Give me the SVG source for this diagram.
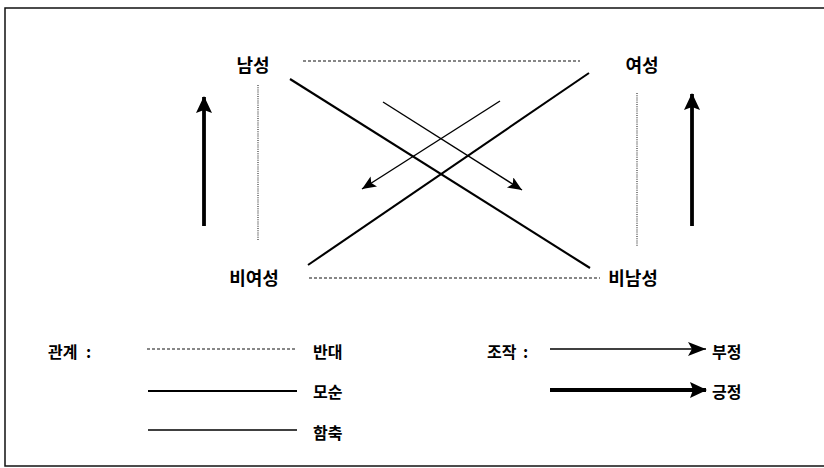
<svg xmlns="http://www.w3.org/2000/svg" width="824" height="468" viewBox="0 0 824 468">
<style>
text{font-family:"Noto Sans CJK KR","Noto Sans",sans-serif;font-weight:bold;fill:#000}
.node{font-size:18px;text-anchor:middle}
.leg{font-size:16px}
.dash{stroke:#111;stroke-width:1.2;stroke-dasharray:3 2;fill:none}
.dot{stroke:#222;stroke-width:1.1;stroke-dasharray:1 1.2;fill:none}
.solid{stroke:#000;stroke-width:2.1;fill:none}
.thin{stroke:#000;stroke-width:1.4;fill:none}
.thick{stroke:#000;stroke-width:3.8;fill:none}
</style>
<defs>
<marker id="ah" markerUnits="userSpaceOnUse" markerWidth="16" markerHeight="14" refX="14" refY="6" orient="auto">
<path d="M0,0 L14,6 L0,12 L3,6 Z" fill="#000"/>
</marker>
<marker id="ahL" markerUnits="userSpaceOnUse" markerWidth="20" markerHeight="16" refX="18" refY="7" orient="auto">
<path d="M0,0 L18,7 L0,14 L4,7 Z" fill="#000"/>
</marker>
<marker id="ahT" markerUnits="userSpaceOnUse" markerWidth="20" markerHeight="18" refX="16" refY="8" orient="auto">
<path d="M0,0 L17,8 L0,16 L3,8 Z" fill="#000"/>
</marker>
</defs>
<rect x="5" y="8" width="830" height="458" fill="none" stroke="#111" stroke-width="1.5"/>
<g id="connectors">
<line class="dash" x1="303" y1="61" x2="580" y2="61"/>
<line class="dash" x1="309" y1="278" x2="600" y2="278"/>
<line class="dot" x1="258" y1="85" x2="258" y2="241"/>
<line class="dot" x1="637" y1="93" x2="637" y2="246"/>
<line class="solid" x1="290" y1="79" x2="590" y2="268"/>
<line class="solid" x1="589" y1="73" x2="308" y2="265"/>
<line class="thin" x1="383" y1="102" x2="522" y2="190" marker-end="url(#ah)"/>
<line class="thin" x1="500" y1="101" x2="362" y2="189" marker-end="url(#ah)"/>
<line class="thick" x1="204" y1="226" x2="204" y2="97" marker-end="url(#ahT)"/>
<line class="thick" x1="692" y1="226" x2="692" y2="94" marker-end="url(#ahT)"/>
</g>
<g id="n-namseong"><text class="node" x="253" y="72">남성</text></g>
<g id="n-yeoseong"><text class="node" x="642" y="72">여성</text></g>
<g id="n-biyeoseong"><text class="node" x="254" y="285">비여성</text></g>
<g id="n-binamseong"><text class="node" x="633" y="285">비남성</text></g>
<g id="legend">
<text class="leg" x="48" y="358">관계</text>
<text class="leg" x="86" y="358">:</text>
<line class="dash" x1="147" y1="349" x2="297" y2="349"/>
<text class="leg" x="313" y="358">반대</text>
<line class="solid" x1="148" y1="391" x2="297" y2="391"/>
<text class="leg" x="313" y="398">모순</text>
<line class="thin" x1="148" y1="430" x2="297" y2="430"/>
<text class="leg" x="313" y="439">함축</text>
<text class="leg" x="487" y="358">조작</text>
<text class="leg" x="523" y="358">:</text>
<line class="thin" x1="550" y1="349" x2="706" y2="349" marker-end="url(#ahL)"/>
<text class="leg" x="712" y="358">부정</text>
<line class="thick" x1="550" y1="390" x2="706" y2="390" marker-end="url(#ahT)"/>
<text class="leg" x="712" y="398">긍정</text>
</g>
</svg>
